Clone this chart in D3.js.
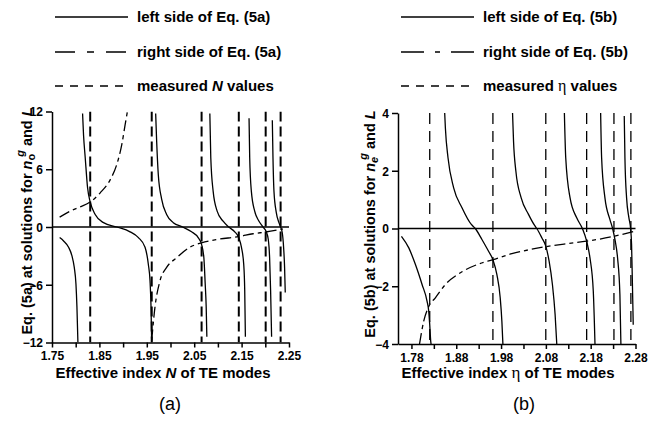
<!DOCTYPE html>
<html>
<head>
<meta charset="utf-8">
<script src="https://cdn.jsdelivr.net/npm/d3@7"></script>
<style>
    body { margin: 0; background: #fff; }
    svg { display: block; font-family: "Liberation Sans", Arial, sans-serif; }
    .axis path, .axis line { stroke: #000; stroke-width: 1.5; }
    .axis text { font-size: 12px; font-weight: bold; fill: #000; }
    .legend-text { font-size: 15px; font-weight: bold; }
    .axis-title { font-size: 15px; font-weight: bold; }
    .y-title { font-size: 14.5px; font-weight: bold; }
    .panel-label { font-size: 18px; }
</style>
</head>
<body>
<svg id="chart"></svg>
<script>
// ---- Panel (a) data: Eq. (5a) vs effective index N ----
const xTicksA = [1.75, 1.80, 1.85, 1.90, 1.95, 2.00, 2.05, 2.10, 2.15, 2.20, 2.25];
const xLabelsA = ["1.75", "", "1.85", "", "1.95", "", "2.05", "", "2.15", "", "2.25"];
const yTicksA = [-12, -6, 0, 6, 12];

// measured N values (vertical dashed lines)
const measuredA = [1.8306, 1.9604, 2.0656, 2.1441, 2.2008, 2.2323];

// left side of Eq. (5a), one array per branch
const leftSideA = [
    [[1.7661, -1.1], [1.7745, -1.45], [1.785, -2.1], [1.7921, -3.0], [1.797, -4.2], [1.8005, -5.9], [1.8026, -8.3], [1.8047, -12]],
    [[1.8145, 11.8], [1.8166, 9.5], [1.8201, 7.2], [1.825, 4.1], [1.8306, 2.6], [1.8411, 1.3], [1.8587, 0.45], [1.8867, 0],
     [1.9147, -0.5], [1.9323, -1.1], [1.9463, -2.1], [1.9533, -3.9], [1.9568, -5.6], [1.9589, -8.3], [1.9603, -12]],
    [[1.9687, 11.8], [1.9708, 8.9], [1.9743, 5.4], [1.9813, 2.9], [1.9918, 1.3], [2.0059, 0.45], [2.0255, 0],
     [2.0444, -0.5], [2.0584, -1.1], [2.0655, -1.8], [2.0704, -3.2], [2.0732, -5.9], [2.0753, -8.3], [2.0767, -11.4]],
    [[2.083, 11.8], [2.085, 7.2], [2.09, 3.7], [2.0984, 1.65], [2.111, 0.6], [2.1229, 0],
     [2.1356, -0.5], [2.144, -1.1], [2.1496, -2.1], [2.1545, -3.9], [2.1566, -6.6], [2.158, -11.4]],
    [[2.1657, 11.3], [2.1671, 7.2], [2.1706, 3.7], [2.1776, 1.65], [2.1867, 0.6], [2.1951, 0],
     [2.2021, -0.5], [2.2063, -1.3], [2.2091, -3.2], [2.2112, -6.6], [2.2133, -11.4]],
    [[2.2148, 11.1], [2.2162, 7.2], [2.2183, 3.7], [2.2232, 1.5], [2.2288, 0.45], [2.2323, 0],
     [2.2358, -0.6], [2.2386, -2.1], [2.2407, -4.2], [2.2421, -6.8]]
];

// right side of Eq. (5a), two branches
const rightSideA = [
    [[1.7661, 1.03], [1.7886, 1.65], [1.8096, 2.1], [1.8306, 2.6], [1.8517, 3.55], [1.8727, 4.9],
     [1.8867, 6.5], [1.8972, 8.55], [1.9042, 10.6], [1.9091, 12]],
    [[1.9603, -11.8], [1.9673, -8.3], [1.9778, -5.6], [1.9918, -4.2], [2.0129, -3.2], [2.0409, -2.1],
     [2.0655, -1.65], [2.097, -1.3], [2.144, -1.0], [2.1741, -0.7], [2.2008, -0.52], [2.2372, -0.2]]
];

// ---- Panel (b) data: Eq. (5b) vs effective index eta ----
const xTicksB = [1.78, 1.83, 1.88, 1.93, 1.98, 2.03, 2.08, 2.13, 2.18, 2.23, 2.28];
const xLabelsB = ["1.78", "", "1.88", "", "1.98", "", "2.08", "", "2.18", "", "2.28"];
const yTicksB = [-4, -2, 0, 2, 4];

const measuredB = [1.8208, 1.9618, 2.0798, 2.171, 2.2319, 2.2697];

const leftSideB = [
    [[1.7577, -0.27], [1.7741, -0.67], [1.7889, -1.25], [1.8037, -1.94], [1.8149, -2.52], [1.8186, -2.87],
     [1.8208, -3.33], [1.823, -3.9], [1.8238, -4]],
    [[1.8542, 4], [1.8557, 3.49], [1.8616, 2.45], [1.8742, 1.41], [1.8928, 0.72], [1.9136, 0.14], [1.9225, 0],
     [1.9373, -0.38], [1.9521, -0.79], [1.9618, -1.08], [1.9707, -1.6], [1.9781, -2.4], [1.9818, -3.21], [1.9841, -4]],
    [[2.0056, 4], [2.0078, 3.03], [2.013, 1.99], [2.0249, 1.06], [2.0412, 0.49], [2.056, 0.08], [2.0597, 0],
     [2.0709, -0.32], [2.0798, -0.61], [2.0872, -1.13], [2.0946, -1.94], [2.1006, -2.98], [2.1043, -4]],
    [[2.1213, 4], [2.1243, 2.45], [2.134, 1.06], [2.1488, 0.37], [2.1614, 0],
     [2.171, -0.44], [2.1784, -1.02], [2.1858, -2.17], [2.1896, -4]],
    [[2.2022, 4], [2.2044, 2.45], [2.2118, 1.06], [2.223, 0.31], [2.2289, 0],
     [2.2341, -0.38], [2.24, -1.02], [2.2452, -2.29], [2.2474, -4]],
    [[2.2549, 3.9], [2.2564, 2.45], [2.2601, 1.06], [2.2653, 0.37], [2.269, 0],
     [2.2712, -0.55], [2.2727, -1.6], [2.2742, -2.75], [2.2749, -3.33]]
];

const rightSideB = [
    [[1.798, -4], [1.8074, -3.21], [1.8186, -2.7], [1.8334, -2.4], [1.8557, -1.94], [1.8928, -1.5],
     [1.9299, -1.23], [1.9618, -1.08], [2.0041, -0.87], [2.0412, -0.74], [2.0798, -0.63], [2.1302, -0.52],
     [2.171, -0.44], [2.2319, -0.27], [2.2786, -0.09]]
];

const width = 658, height = 424;
const svg = d3.select("#chart").attr("width", width).attr("height", height);

function drawPanel(p) {
    const g = svg.append("g");
    const x = d3.scaleLinear().domain(p.xDomain).range(p.xRange);
    const y = d3.scaleLinear().domain(p.yDomain).range(p.yRange);

    // clip curves to plot area
    g.append("clipPath").attr("id", p.id + "-clip")
        .append("rect")
        .attr("x", p.xRange[0]).attr("y", p.yRange[1])
        .attr("width", p.xRange[1] - p.xRange[0]).attr("height", p.yRange[0] - p.yRange[1]);

    const plot = g.append("g").attr("clip-path", `url(#${p.id}-clip)`);

    // zero line
    g.append("line")
        .attr("x1", p.xRange[0]).attr("x2", p.xRange[1])
        .attr("y1", y(0)).attr("y2", y(0))
        .style("stroke", "#000").style("stroke-width", 1.3);

    // measured values
    plot.selectAll(".measured")
        .data(p.measured)
        .enter()
        .append("line")
        .attr("x1", d => x(d)).attr("x2", d => x(d))
        .attr("y1", p.yRange[1]).attr("y2", p.yRange[0])
        .style("stroke", "#000")
        .style("stroke-width", p.measuredWidth)
        .style("stroke-dasharray", p.measuredDash);

    const line = d3.line()
        .x(d => x(d[0]))
        .y(d => y(d[1]))
        .curve(d3.curveMonotoneX);

    // left side (solid)
    plot.selectAll(".left")
        .data(p.left)
        .enter()
        .append("path")
        .attr("d", line)
        .style("fill", "none").style("stroke", "#000").style("stroke-width", 1.3);

    // right side (long-short dash)
    plot.selectAll(".right")
        .data(p.right)
        .enter()
        .append("path")
        .attr("d", line)
        .style("fill", "none").style("stroke", "#000").style("stroke-width", 1.3)
        .style("stroke-dasharray", "11,4,4,4");

    // axes
    g.append("g")
        .attr("class", "axis")
        .attr("transform", `translate(0,${p.yRange[0]})`)
        .call(d3.axisBottom(x).tickValues(p.xTicks).tickFormat((d, i) => p.xLabels[i])
            .tickSize(5).tickSizeOuter(0).tickPadding(4));

    g.append("g")
        .attr("class", "axis")
        .attr("transform", `translate(${p.xRange[0]},0)`)
        .call(d3.axisLeft(y).tickValues(p.yTicks).tickFormat(d3.format("d"))
            .tickSize(6).tickSizeOuter(0).tickPadding(3))
        .selectAll("text").attr("dy", "0.36em");

    // x axis title
    const xt = g.append("text")
        .attr("class", "axis-title")
        .attr("x", p.xTitleX).attr("y", 378)
        .attr("text-anchor", "middle");
    p.xTitle.forEach(part => {
        const t = xt.append("tspan").text(part.text);
        if (part.italic) t.attr("font-style", "italic");
        if (part.greek) t.attr("font-family", "Liberation Serif, serif").attr("font-weight", "normal").attr("font-size", 17);
    });

    // y axis title (rotated)
    const yt = g.append("text")
        .attr("class", "y-title")
        .attr("text-anchor", "middle")
        .attr("transform", `translate(${p.yTitleX},${p.yTitleY}) rotate(-90)`);
    yt.append("tspan").text(p.yTitle);
    yt.append("tspan").attr("font-style", "italic").text("n");
    yt.append("tspan").attr("font-size", 11).attr("dy", 3).attr("font-style", p.subItalic ? "italic" : "normal").text(p.sub);
    yt.append("tspan").attr("font-size", 11).attr("font-style", "italic").attr("dx", -3).attr("dy", -11).text("g");
    yt.append("tspan").attr("dy", 8).text(" and ");
    yt.append("tspan").attr("font-style", "italic").text("L");

    // panel label
    g.append("text")
        .attr("class", "panel-label")
        .attr("x", p.labelX).attr("y", 410)
        .attr("text-anchor", "middle")
        .text(p.label);

    // legend
    const rows = [
        { dash: null, y: 17 },
        { dash: p.legendRightDash, y: 52 },
        { dash: "8,7", y: 86 }
    ];
    rows.forEach((r, i) => {
        g.append("line")
            .attr("x1", p.legendX).attr("x2", p.legendX + 73)
            .attr("y1", r.y).attr("y2", r.y)
            .style("stroke", "#000").style("stroke-width", 1.5)
            .style("stroke-dasharray", r.dash);
        const t = g.append("text")
            .attr("class", "legend-text")
            .attr("x", p.legendX + 82).attr("y", r.y + 5);
        p.legendText[i].forEach(part => {
            const s = t.append("tspan").text(part.text);
            if (part.italic) s.attr("font-style", "italic");
            if (part.greek) s.attr("font-family", "Liberation Serif, serif").attr("font-weight", "normal").attr("font-size", 16);
        });
    });
}

drawPanel({
    id: "a",
    xDomain: [1.75, 2.25], xRange: [52, 289],
    yDomain: [-12, 12], yRange: [342.5, 111.5],
    xTicks: xTicksA, xLabels: xLabelsA, yTicks: yTicksA,
    measured: measuredA, left: leftSideA, right: rightSideA,
    measuredWidth: 2, measuredDash: "10,5",
    xTitle: [{ text: "Effective index " }, { text: "N", italic: true }, { text: " of TE modes" }],
    xTitleX: 163,
    yTitle: "Eq. (5a) at solutions for ", sub: "o", subItalic: false,
    yTitleX: 32, yTitleY: 221,
    label: "(a)", labelX: 170,
    legendX: 55,
    legendRightDash: "20,12,7,12",
    legendText: [
        [{ text: "left side of Eq. (5a)" }],
        [{ text: "right side of Eq. (5a)" }],
        [{ text: "measured " }, { text: "N", italic: true }, { text: " values" }]
    ]
});

drawPanel({
    id: "b",
    xDomain: [1.75, 2.28], xRange: [398, 635.5],
    yDomain: [-4, 4], yRange: [344, 113],
    xTicks: xTicksB, xLabels: xLabelsB, yTicks: yTicksB,
    measured: measuredB, left: leftSideB, right: rightSideB,
    measuredWidth: 1.3, measuredDash: "11,7",
    xTitle: [{ text: "Effective index " }, { text: "η", greek: true }, { text: " of TE modes" }],
    xTitleX: 508,
    yTitle: "Eq. (5b) at solutions for ", sub: "e", subItalic: true,
    yTitleX: 375, yTitleY: 224,
    label: "(b)", labelX: 524,
    legendX: 401,
    legendRightDash: "23,11,5,11",
    legendText: [
        [{ text: "left side of Eq. (5b)" }],
        [{ text: "right side of Eq. (5b)" }],
        [{ text: "measured " }, { text: "η", greek: true }, { text: " values" }]
    ]
});
</script>
</body>
</html>
